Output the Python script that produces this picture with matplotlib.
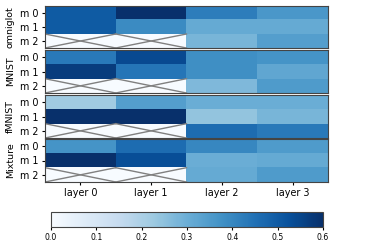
import numpy as np
import matplotlib
matplotlib.use("Agg")
import matplotlib.pyplot as plt

datasets = ["omniglot", "MNIST", "fMNIST", "Mixture"]
modules = ["m 0", "m 1", "m 2"]
layers = ["layer 0", "layer 1", "layer 2", "layer 3"]

# None = not present (crossed cell)
omniglot = [[0.50, 0.60, 0.42, 0.36],
            [0.50, 0.39, 0.31, 0.31],
            [None, None, 0.28, 0.34]]
mnist = [[0.43, 0.54, 0.38, 0.37],
         [0.57, 0.44, 0.38, 0.32],
         [None, None, 0.27, 0.35]]
fmnist = [[0.22, 0.34, 0.30, 0.30],
          [0.60, 0.60, 0.24, 0.28],
          [None, None, 0.46, 0.43]]
mixture = [[0.37, 0.46, 0.40, 0.35],
           [0.60, 0.53, 0.30, 0.31],
           [None, None, 0.31, 0.35]]
tables = [omniglot, mnist, fmnist, mixture]
cbar_ticks = [0.0, 0.1, 0.2, 0.3, 0.4, 0.5, 0.6]

fig = plt.figure(figsize=(3.74, 2.46), dpi=100)
W, H = 374, 246
left, right = 45, 328
panels = [(6, 48), (50, 93), (95, 138), (139, 182)]
cmap = plt.get_cmap("Blues")
im = None
for i, (name, tab) in enumerate(zip(datasets, tables)):
    top, bot = panels[i]
    ax = fig.add_axes([left / W, 1 - bot / H, (right - left) / W, (bot - top) / H])
    arr = np.array([[0.0 if v is None else v for v in row] for row in tab])
    im = ax.imshow(arr, cmap=cmap, vmin=0, vmax=0.6, aspect="auto",
                   interpolation="nearest")
    for r, row in enumerate(tab):
        for c, v in enumerate(row):
            if v is None:
                ax.plot([c - 0.5, c + 0.5], [r - 0.5, r + 0.5], color="gray", lw=1)
                ax.plot([c - 0.5, c + 0.5], [r + 0.5, r - 0.5], color="gray", lw=1)
    ax.set_xlim(-0.5, len(layers) - 0.5)
    ax.set_ylim(len(modules) - 0.5, -0.5)
    ax.set_yticks(range(len(modules)))
    ax.set_yticklabels(modules, fontsize=6.9)
    ax.set_ylabel(name, fontsize=6.8, labelpad=4)
    ax.tick_params(axis="both", length=2.5, pad=2)
    if i < len(datasets) - 1:
        ax.set_xticks([])
    else:
        ax.set_xticks(range(len(layers)))
        ax.set_xticklabels(layers, fontsize=6.9)
    for s in ax.spines.values():
        s.set_color("#444444")

cax = fig.add_axes([51 / W, 1 - 227 / H, (323 - 51) / W, 15 / H])
cb = fig.colorbar(im, cax=cax, orientation="horizontal", ticks=cbar_ticks)
cb.ax.tick_params(labelsize=5.6, length=2.5, pad=2)
cb.outline.set_edgecolor("#444444")
fig.savefig("out.png", dpi=100)
